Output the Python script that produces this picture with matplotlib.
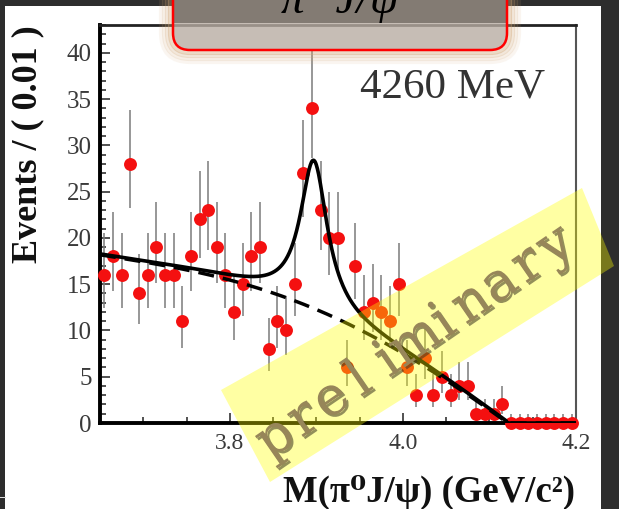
import numpy as np
import matplotlib
matplotlib.use("Agg")
import matplotlib.pyplot as plt
from matplotlib.patches import FancyBboxPatch, Polygon, Rectangle
from matplotlib.transforms import IdentityTransform
from matplotlib.ticker import MultipleLocator
import matplotlib.patheffects as pe

plt.rcParams['font.family'] = ['Liberation Serif', 'DejaVu Serif']

# ---------------- data ----------------
mass = [3.655, 3.665, 3.675, 3.685, 3.695, 3.705, 3.715, 3.725, 3.735, 3.745,
        3.755, 3.765, 3.775, 3.785, 3.795, 3.805, 3.815, 3.825, 3.835, 3.845,
        3.855, 3.865, 3.875, 3.885, 3.895, 3.905, 3.915, 3.925, 3.935, 3.945,
        3.955, 3.965, 3.975, 3.985, 3.995, 4.005, 4.015, 4.025, 4.035, 4.045,
        4.055, 4.065, 4.075, 4.085, 4.095, 4.105, 4.115, 4.125, 4.135, 4.145,
        4.155, 4.165, 4.175, 4.185, 4.195]
counts = [16, 18, 16, 28, 14, 16, 19, 16, 16, 11,
          18, 22, 23, 19, 16, 12, 15, 18, 19, 8,
          11, 10, 15, 27, 34, 23, 20, 20, 6, 17,
          12, 13, 12, 11, 15, 6, 3, 7, 3, 5,
          3, 4, 4, 1, 1, 1, 2, 0, 0, 0,
          0, 0, 0, 0, 0]

# fitted background shape
bkg_mass = [3.65, 3.70, 3.75, 3.80, 3.85, 3.90, 3.95, 4.00, 4.05, 4.08, 4.10, 4.12]
bkg_level = [18.2, 17.35, 16.6, 15.4, 14.1, 12.2, 10.2, 7.4, 4.6, 2.8, 1.5, 0.0]
threshold = 4.12

# fitted peak (Breit-Wigner)
peak_mass = 3.897
peak_halfwidth = 0.019
peak_height = 16.0

xticks = [3.8, 4.0, 4.2]
xtick_labels = ['3.8', '4.0', '4.2']
yticks = [0, 5, 10, 15, 20, 25, 30, 35, 40]

energy_label = '4260 MeV'
ylabel = 'Events / ( 0.01 )'
xlabel = 'M(π⁰J/ψ) (GeV/c²)'
channel = 'π⁰ J/ψ'
stamp = 'preliminary'

# ---------------- figure ----------------
W, H = 619, 509
fig = plt.figure(figsize=(W / 100, H / 100), dpi=100, facecolor='#2d2d2d')
ID = IdentityTransform()

def disp(x, y):
    return (x, H - y)

fig.add_artist(Rectangle((5, 0), 596, H - 6, transform=ID, facecolor='white',
                         edgecolor='none', zorder=-10))
fig.add_artist(Rectangle((0, H - 498), 6, 1.5, transform=ID, facecolor='#dddddd',
                         edgecolor='none', zorder=-9))

ax = fig.add_axes([100 / W, 1 - 423 / H, 476 / W, 398 / H])
ax.set_facecolor('white')

m = np.array(mass)
n = np.array(counts, dtype=float)
root = np.sqrt(n + 0.25)
err_lo = root - 0.5
err_hi = root + 0.5

ax.errorbar(m, n, yerr=[err_lo, err_hi], fmt='none', ecolor='#7a7a7a',
            elinewidth=1.1, capsize=0, zorder=2, clip_on=False)
ax.plot(m, n, 'o', color='#f41010', markersize=9.3, markeredgewidth=0,
        zorder=3, clip_on=False)

# fit curves
grid = np.linspace(3.65, 4.2, 800)
coef = np.polyfit(bkg_mass, bkg_level, 4)
bkg = np.polyval(coef, grid)
bkg = np.where(grid < threshold, np.clip(bkg, 0, None), 0.0)
sig = peak_height / (1 + ((grid - peak_mass) / peak_halfwidth) ** 2)
sig = np.where(grid < threshold, sig, 0.0)
tot = bkg + sig
ax.plot(grid, bkg, color='black', lw=2.5, linestyle=(0, (4.6, 2.6)), zorder=4)
ax.plot(grid, tot, color='black', lw=2.6, zorder=5)

ax.set_xlim(3.65, 4.2)
ax.set_ylim(0, 43)
ax.set_xticks(xticks)
ax.set_xticklabels(xtick_labels)
ax.set_yticks(yticks)
ax.xaxis.set_minor_locator(MultipleLocator(0.05))
ax.yaxis.set_minor_locator(MultipleLocator(1))
ax.tick_params(which='both', direction='in', top=False, right=False,
               color='#222222', width=1.1)
ax.tick_params(which='major', length=7.5)
ax.tick_params(which='minor', length=4)
ax.tick_params(axis='y', labelsize=18, labelcolor='#3a3a3a', pad=6)
ax.tick_params(axis='x', labelsize=17, labelcolor='#3a3a3a', pad=7)
for side in ('left', 'bottom'):
    ax.spines[side].set_linewidth(2.8)
    ax.spines[side].set_color('black')
ax.spines['top'].set_linewidth(2.0)
ax.spines['top'].set_color('#222222')
ax.spines['right'].set_linewidth(1.5)
ax.spines['right'].set_color('#555555')

fig.text(27.5 / W, 1 - 144 / H, ylabel, rotation=90, ha='center', va='center',
         fontsize=26, fontweight='bold', color='#111111')
fig.text(575 / W, 1 - 502 / H, xlabel, ha='right', va='baseline',
         fontsize=26.5, fontweight='bold', color='#111111')
fig.text(545 / W, 1 - 97 / H, energy_label, ha='right', va='baseline',
         fontsize=31, color='#333333')

# ---------------- title box overlay ----------------
bx0, bx1, by_top, by_bot = 173, 507, -40, 50
for k, a in zip([12, 9, 6, 3], [0.10, 0.17, 0.26, 0.40]):
    fig.add_artist(FancyBboxPatch(disp(bx0, by_bot), bx1 - bx0, by_bot - by_top,
                                  boxstyle='round,pad=%g,rounding_size=%g' % (k, 17 + k),
                                  transform=ID, facecolor='none', edgecolor='#d0a574',
                                  linewidth=3.0, alpha=a, zorder=10))
box = FancyBboxPatch(disp(bx0, by_bot), bx1 - bx0, by_bot - by_top,
                     boxstyle='round,pad=0,rounding_size=17', transform=ID,
                     facecolor=(0.72, 0.68, 0.64), alpha=0.8, edgecolor='none', zorder=11)
fig.add_artist(box)
dark = Rectangle(disp(bx0, 23), bx1 - bx0, 80, transform=ID,
                 facecolor='#837b73', edgecolor='none', zorder=12)
fig.add_artist(dark)
dark.set_clip_path(box)
fig.add_artist(FancyBboxPatch(disp(bx0, by_bot), bx1 - bx0, by_bot - by_top,
                              boxstyle='round,pad=0,rounding_size=17', transform=ID,
                              facecolor='none', edgecolor='#ff0000', linewidth=1.8,
                              zorder=13))
fig.text(340 / W, 1 - 13 / H, channel, ha='center', va='baseline', fontsize=34,
         style='italic', color='black', zorder=14)

# ---------------- preliminary banner ----------------
band = [disp(221, 390), disp(582, 188), disp(614, 266), disp(270, 482)]
fig.add_artist(Polygon(band, closed=True, transform=ID, facecolor=(1, 1, 0),
                       edgecolor='none', alpha=0.36, zorder=30))

theta = 34.5
ux, uy = np.cos(np.radians(theta)), np.sin(np.radians(theta))
cx, cy = disp(424, 354)
step = 34.0
shadow = [pe.SimplePatchShadow(offset=(1.5, -1.5), shadow_rgbFace='#3b341f', alpha=0.55),
          pe.Normal()]
for i, ch in enumerate(stamp):
    k = i - (len(stamp) - 1) / 2
    px, py = cx + k * step * ux, cy + k * step * uy
    fig.text(px / W, py / H, ch, rotation=theta, rotation_mode='anchor',
             ha='center', va='baseline', fontsize=39, family='DejaVu Serif',
             color='#978659', zorder=31, path_effects=shadow)

fig.savefig('out.png', dpi=100, facecolor=fig.get_facecolor())
